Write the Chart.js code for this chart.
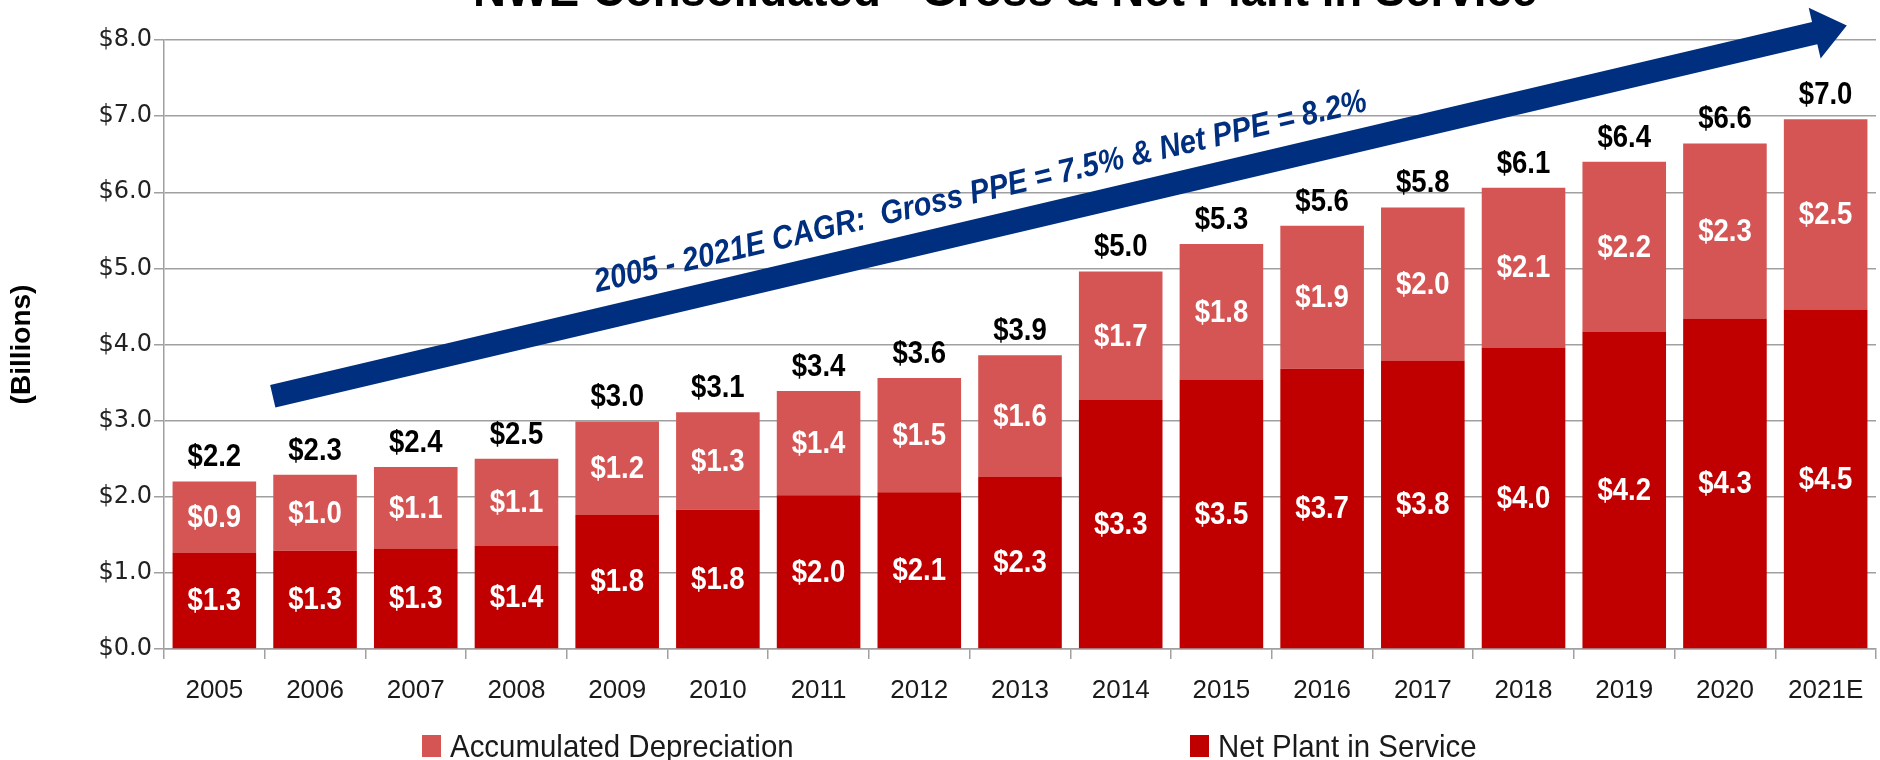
<!DOCTYPE html>
<html>
<head>
<meta charset="utf-8">
<script src="https://cdn.jsdelivr.net/npm/chart.js@4.4.1/dist/chart.umd.min.js"></script>
<style>
  html, body { margin: 0; padding: 0; background: #fff; }
  #wrap { width: 1880px; height: 760px; }
</style>
</head>
<body>
<div id="wrap"><canvas id="plantChart" width="1880" height="760"></canvas></div>
<script>
// values in $ billions
var years = ['2005', '2006', '2007', '2008', '2009', '2010', '2011', '2012', '2013',
             '2014', '2015', '2016', '2017', '2018', '2019', '2020', '2021E'];
var netPlant = [1.26, 1.29, 1.32, 1.36, 1.76, 1.83, 2.02, 2.06, 2.26,
                3.27, 3.54, 3.68, 3.79, 3.96, 4.17, 4.34, 4.46];
var accumDepreciation = [0.94, 1.00, 1.07, 1.14, 1.23, 1.28, 1.37, 1.50, 1.60,
                         1.69, 1.78, 1.88, 2.01, 2.10, 2.23, 2.30, 2.50];
var yTickValues = [0, 1, 2, 3, 4, 5, 6, 7, 8];

var chartTitle = 'NWE Consolidated - Gross & Net Plant in Service';
var cagrText = '2005 - 2021E CAGR:  Gross PPE = 7.5% & Net PPE = 8.2%';
// arrow ends, in (category index, $ billions)
var arrowFrom = { x: 0.58, y: 3.32 };
var arrowTo = { x: 16.21, y: 8.19 };

var SANS = '"Liberation Sans", Arial, sans-serif';
var NAVY = '#012F7F';

function money(v) {
    return '$' + (Math.round(v * 10 + 1e-6) / 10).toFixed(1);
}

// the slide uses a condensed face, so squeeze the hand drawn text a bit
function narrowText(ctx, text, x, y, sx) {
    ctx.save();
    ctx.translate(x, y);
    ctx.scale(sx, 1);
    ctx.fillText(text, 0, 0);
    ctx.restore();
}

var valueLabels = {
    id: 'valueLabels',
    afterDatasetsDraw: function(chart) {
        var ctx = chart.ctx;
        ctx.save();
        ctx.textAlign = 'center';
        ctx.textBaseline = 'middle';
        ctx.font = 'bold 32px ' + SANS;
        ctx.fillStyle = '#fff';
        chart.data.datasets.forEach(function(ds, di) {
            chart.getDatasetMeta(di).data.forEach(function(bar, i) {
                narrowText(ctx, money(ds.data[i]), bar.x, (bar.y + bar.base) / 2 + 1, 0.86);
            });
        });
        var top = chart.getDatasetMeta(chart.data.datasets.length - 1);
        ctx.fillStyle = '#000';
        top.data.forEach(function(bar, i) {
            var total = 0;
            chart.data.datasets.forEach(function(ds) { total += ds.data[i]; });
            narrowText(ctx, money(total), bar.x, bar.y - 24, 0.86);
        });
        ctx.restore();
    }
};

var arrowAndText = {
    id: 'arrowAndText',
    afterDatasetsDraw: function(chart) {
        var ctx = chart.ctx;
        var xs = chart.scales.x, ys = chart.scales.y;
        var x0 = xs.getPixelForValue(arrowFrom.x), y0 = ys.getPixelForValue(arrowFrom.y);
        var x1 = xs.getPixelForValue(arrowTo.x), y1 = ys.getPixelForValue(arrowTo.y);
        var len = Math.hypot(x1 - x0, y1 - y0);
        var ang = Math.atan2(y1 - y0, x1 - x0);
        var shaft = 23, headW = 52, headL = 33;

        ctx.save();
        ctx.translate(x0, y0);
        ctx.rotate(ang);
        ctx.fillStyle = NAVY;
        ctx.beginPath();
        ctx.moveTo(0, -shaft / 2);
        ctx.lineTo(len - headL, -shaft / 2);
        ctx.lineTo(len - headL, -headW / 2);
        ctx.lineTo(len, 0);
        ctx.lineTo(len - headL, headW / 2);
        ctx.lineTo(len - headL, shaft / 2);
        ctx.lineTo(0, shaft / 2);
        ctx.closePath();
        ctx.fill();

        ctx.font = 'italic bold 33px ' + SANS;
        ctx.textAlign = 'center';
        ctx.textBaseline = 'middle';
        narrowText(ctx, cagrText, len * 0.455, -36, 0.88);
        ctx.restore();
    }
};

var titleAndLegend = {
    id: 'titleAndLegend',
    afterDraw: function(chart) {
        var ctx = chart.ctx;
        ctx.save();
        ctx.fillStyle = '#000';
        ctx.font = 'bold 48px ' + SANS;
        ctx.textAlign = 'center';
        ctx.textBaseline = 'alphabetic';
        narrowText(ctx, chartTitle, 1005, 6, 0.95);

        // legend, depreciation first like the original
        var xs = [422, 1190];
        ctx.font = '32px ' + SANS;
        ctx.textAlign = 'left';
        ctx.textBaseline = 'middle';
        var order = chart.data.datasets.slice().reverse();
        order.forEach(function(ds, k) {
            ctx.fillStyle = ds.backgroundColor;
            ctx.fillRect(xs[k], 735, 19, 22);
            ctx.fillStyle = '#1a1a1a';
            narrowText(ctx, ds.label, xs[k] + 28, 748, 0.92);
        });
        ctx.restore();
    }
};

var gridGray = '#a0a0a0';

new Chart(document.getElementById('plantChart'), {
    type: 'bar',
    data: {
        labels: years,
        datasets: [{
            label: 'Net Plant in Service',
            data: netPlant,
            backgroundColor: '#C00000',
            barPercentage: 0.83,
            categoryPercentage: 1.0
        }, {
            label: 'Accumulated Depreciation',
            data: accumDepreciation,
            backgroundColor: '#D55555',
            barPercentage: 0.83,
            categoryPercentage: 1.0
        }]
    },
    options: {
        responsive: false,
        animation: false,
        devicePixelRatio: 1,
        layout: { padding: { top: 40, right: 4, bottom: 41, left: 0 } },
        plugins: {
            legend: { display: false },
            tooltip: { enabled: false }
        },
        scales: {
            x: {
                stacked: true,
                offset: true,
                grid: { display: true, drawOnChartArea: false, offset: true, color: gridGray, lineWidth: 1.5, tickLength: 10 },
                border: { display: true, color: gridGray, width: 1.5 },
                ticks: { color: '#1a1a1a', font: { family: SANS, size: 26 }, padding: 16, maxRotation: 0 },
                afterFit: function(scale) { scale.height = 70; }
            },
            y: {
                stacked: true,
                min: 0,
                max: 8,
                afterBuildTicks: function(scale) {
                    scale.ticks = yTickValues.map(function(v) { return { value: v }; });
                },
                ticks: {
                    color: '#222',
                    font: { family: '"DejaVu Sans", Verdana, sans-serif', size: 24 },
                    padding: 2,
                    callback: function(v) { return money(v); }
                },
                grid: { color: gridGray, lineWidth: 1.5, tickLength: 10 },
                border: { display: true, color: gridGray, width: 1.5 },
                title: {
                    display: true,
                    text: '(Billions)',
                    color: '#000',
                    font: { family: SANS, size: 28, weight: 'bold' },
                    padding: { top: 5, bottom: 0 }
                },
                afterFit: function(scale) { scale.width = 164; }
            }
        }
    },
    plugins: [valueLabels, arrowAndText, titleAndLegend]
});
</script>
</body>
</html>
